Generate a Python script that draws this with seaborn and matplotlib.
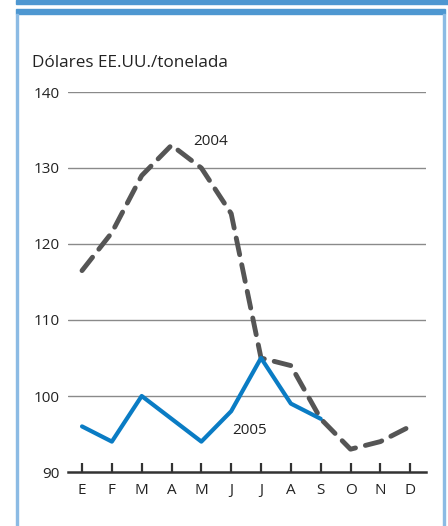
import numpy as np
import pandas as pd
import matplotlib
matplotlib.use("Agg")
import matplotlib.pyplot as plt
from matplotlib.patches import Rectangle
import seaborn as sns

months = ["E", "F", "M", "A", "M", "J", "J", "A", "S", "O", "N", "D"]
values_2004 = [116.5, 121.5, 129, 133, 130, 124, 105, 104, 97, 93, 94, 96]
values_2005 = [96, 94, 100, 97, 94, 98, 105, 99, 97, np.nan, np.nan, np.nan]
yticks = [90, 100, 110, 120, 130, 140]
ylabel = "Dólares EE.UU./tonelada"

sns.set_theme(style="white")
plt.rcParams["font.family"] = ["Open Sans", "DejaVu Sans"]

W, H = 448, 526
fig = plt.figure(figsize=(W / 100, H / 100), dpi=100)

def rect(x0, y0, x1, y1, color):
    fig.patches.append(Rectangle((x0 / W, 1 - y1 / H), (x1 - x0) / W, (y1 - y0) / H,
                                 transform=fig.transFigure, color=color, zorder=0))

frame_blue = "#4e97d1"
rect(16, 0, 448, 3.7, frame_blue)
rect(16, 9.3, 445, 14, frame_blue)
rect(16, 14, 18, 526, "#8cbbe4")
rect(443, 14, 445, 526, "#8cbbe4")

ax = fig.add_axes([68 / W, (H - 472) / H, (426 - 68) / W, (472 - 92) / H])
ax.set_facecolor("none")

df = pd.DataFrame({"x": np.arange(len(months)), "v2004": values_2004, "v2005": values_2005})

for y in yticks[1:]:
    ax.axhline(y, color="#8a8a8a", lw=1.0, zorder=1)

sns.lineplot(data=df, x="x", y="v2004", ax=ax, color="#555555", lw=3.5,
             dashes=False, zorder=3)
ax.lines[-1].set_dashes((3.5, 2.1))
ax.lines[-1].set_dash_capstyle("round")
sns.lineplot(data=df, x="x", y="v2005", ax=ax, color="#0a7cc4", lw=3.0, zorder=4)

ax.set_xlim(-0.47, 11.53)
ax.set_ylim(90, 140)
ax.set_xticks(np.arange(len(months)))
ax.set_xticklabels(months)
ax.set_yticks(yticks)
ax.set_yticklabels([str(t) for t in yticks])
ax.set_xlabel("")
ax.set_ylabel("")

for s in ["top", "right", "left"]:
    ax.spines[s].set_visible(False)
ax.spines["bottom"].set_color("#333333")
ax.spines["bottom"].set_linewidth(1.8)
ax.spines["bottom"].set_zorder(5)

fs = 11
ax.tick_params(axis="x", direction="in", length=6.5, width=1.6, color="#333333",
               pad=8, labelsize=fs, labelcolor="#222222", bottom=True)
ax.tick_params(axis="y", length=0, pad=6, labelsize=fs, labelcolor="#222222")

fig.text(32 / W, 1 - 63 / H, ylabel, fontsize=12.3, color="#222222", va="center", ha="left")
ax.text(3.72, 133.5, "2004", fontsize=fs, color="#222222", va="center", ha="left")
ax.text(5.02, 95.5, "2005", fontsize=fs, color="#222222", va="center", ha="left")

fig.savefig("out.png", dpi=100)
